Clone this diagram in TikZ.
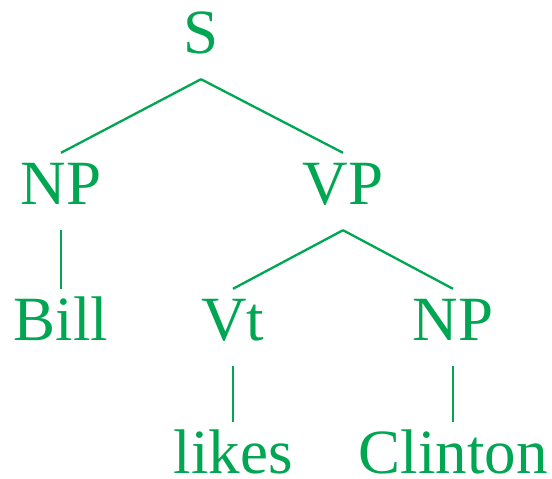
\documentclass[tikz,border=0pt]{standalone}
\usepackage{fontspec}
\setmainfont{Liberation Serif}
\usepackage{xcolor}
\usepackage{tikz}
\definecolor{treegreen}{RGB}{0,166,81}

\begin{document}
\begin{tikzpicture}[x=1pt, y=-1pt,
    every node/.style={font=\fontsize{63}{63}\selectfont, text=treegreen, anchor=base,
        text height=42pt, text depth=17pt, inner xsep=0pt, inner ysep=9pt},
    leaf/.style={text depth=0pt, inner ysep=0pt},
    branch/.style={draw=treegreen, line width=2.3pt}]
    \useasboundingbox (0,0) rectangle (552,479);
    % Top level
    \node (s) at (201, 53) {S};
    \node (np) at (61, 204) {NP};
    \node (vp) at (343, 204) {VP};
    % Second level
    \node (bill) at (61, 340) {Bill};
    \node (vt) at (233, 340) {Vt};
    \node (npobj) at (453, 340) {NP};
    % Words
    \node[leaf] (likes) at (233, 473) {likes};
    \node[leaf] (clinton) at (453, 473) {Clinton};

    % Branches
    \draw[branch] (s.south) -- (np.north);
    \draw[branch] (s.south) -- (vp.north);
    \draw[branch] (np.south) -- (bill.north);
    \draw[branch] (vp.south) -- (vt.north);
    \draw[branch] (vp.south) -- (npobj.north);
    \draw[branch] (vt.south) -- ([yshift=9pt]likes.north);
    \draw[branch] (npobj.south) -- ([yshift=9pt]clinton.north);
\end{tikzpicture}
\end{document}
